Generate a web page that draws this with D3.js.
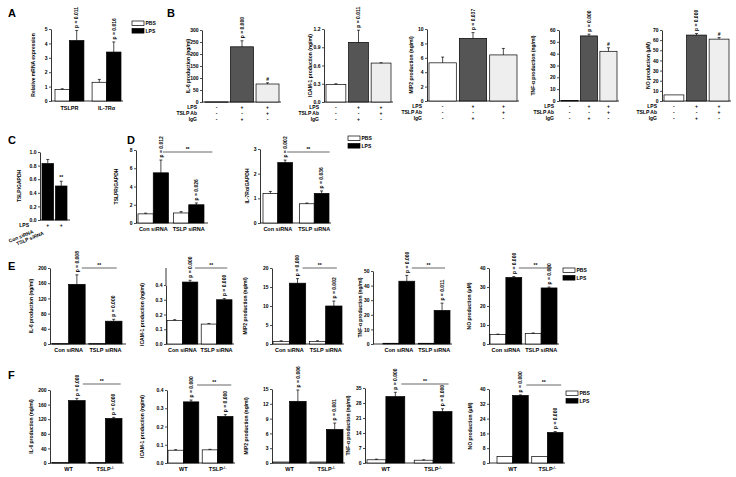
<!DOCTYPE html>
<html><head><meta charset="utf-8">
<script src="https://cdn.jsdelivr.net/npm/d3@7"></script>
<style>
body{margin:0;background:#fff}
text{font-family:"Liberation Sans",Arial,sans-serif;font-weight:bold;fill:#000}
</style></head>
<body><svg id="c" width="736" height="477"></svg>
<script>
// ---------------- DATA ----------------
// Panel A
const aCategories = ["TSLPR", "IL-7Rα"];
const aPBS = [0.8, 1.3];
const aPBSErr = [0.05, 0.2];
const aLPS = [4.2, 3.4];
const aLPSErr = [0.7, 0.7];
const aPLabels = ["p = 0.011", "p = 0.016"];
const aTicks = [0, 1, 2, 3, 4, 5];

// Panel B (antibody blocking)
const bLabels = ["IL-6 production (ng/ml)", "ICAM-1 production (ng/ml)", "MIP2 production (ng/ml)", "TNF-α production (ng/ml)", "NO production (μM)"];
const bTicks = [[0, 50, 100, 150, 200, 250, 300], [0, 0.3, 0.6, 0.9, 1.2], [0, 2, 4, 6, 8, 10], [0, 10, 20, 30, 40, 50, 60], [0, 10, 20, 30, 40, 50, 60, 70]];
const bValues = [[0.5, 230, 75], [0.29, 0.98, 0.64], [5.3, 8.7, 6.4], [0.4, 55, 42], [6, 65, 61]];
const bErrors = [[0, 25, 5], [0.01, 0.2, 0.005], [0.8, 0.8, 0.9], [0, 1.5, 3], [0, 1.5, 1.5]];
const bPLabels = ["p = 0.000", "p = 0.011", "p = 0.037", "p = 0.000", "p = 0.000"];
const bHash = [true, false, false, true, true];
const bRowLabels = ["LPS", "TSLP Ab", "IgG"];
const bSigns = [["-", "+", "+"], ["-", "-", "+"], ["-", "+", "-"]];

// Panel C
const cCategories = ["Con siRNA", "TSLP siRNA"];
const cValues = [0.83, 0.5];
const cErrors = [0.06, 0.07];
const cTicks = [0, 0.2, 0.4, 0.6, 0.8, 1.0];

// Panel D
const dCategories = ["Con siRNA", "TSLP siRNA"];
const dLabels = ["TSLPR/GAPDH", "IL-7Rα/GAPDH"];
const dTicks = [[0, 2, 4, 6, 8], [0, 1, 2, 3]];
const dPBS = [[1.0, 1.1], [1.2, 0.78]];
const dPBSErr = [[0.08, 0.15], [0.08, 0.03]];
const dLPS = [[5.5, 2.0], [2.45, 1.2]];
const dLPSErr = [[1.4, 0.2], [0.1, 0.1]];
const dPLabels = [["p = 0.012", "p = 0.026"], ["p = 0.002", "p = 0.036"]];

// Panel E (siRNA)
const eCategories = ["Con siRNA", "TSLP siRNA"];
const eTicks = [[0, 40, 80, 120, 160, 200], [0, 0.1, 0.2, 0.3, 0.4], [0, 5, 10, 15, 20], [0, 10, 20, 30, 40, 50], [0, 10, 20, 30, 40]];
const ePBS = [[1, 1], [0.16, 0.135], [0.7, 0.7], [0.5, 0.5], [5, 5.5]];
const ePBSErr = [[0, 0], [0.005, 0.004], [0.15, 0.15], [0, 0], [0.2, 0.3]];
const eLPS = [[157, 60], [0.42, 0.30], [16, 10], [43, 23], [35, 29.5]];
const eLPSErr = [[25, 5], [0.012, 0.008], [1.2, 1.3], [4, 5], [0.5, 0.5]];
const ePLabels = [["p = 0.008", "p = 0.000"], ["p = 0.000", "p = 0.000"], ["p = 0.000", "p = 0.002"], ["p = 0.000", "p = 0.011"], ["p = 0.000", "p = 0.000"]];

// Panel F (knockout)
const fCategories = ["WT", "TSLP"];
const fTicks = [[0, 40, 80, 120, 160, 200], [0, 0.1, 0.2, 0.3, 0.4], [0, 3, 6, 9, 12, 15], [0, 7, 14, 21, 28, 35], [0, 8, 16, 24, 32, 40]];
const fPBS = [[1, 1], [0.07, 0.072], [0.2, 0.2], [1.5, 1.3], [3.5, 3.5]];
const fPBSErr = [[0, 0], [0.003, 0.003], [0, 0], [0.3, 0.2], [0, 0]];
const fLPS = [[171, 122], [0.335, 0.255], [12.5, 6.8], [31, 24], [36.5, 16.5]];
const fLPSErr = [[6, 3], [0.01, 0.01], [2.3, 1.3], [2, 1.3], [0.3, 0.5]];
const fPLabels = [["p = 0.000", "p = 0.000"], ["p = 0.000", "p = 0.000"], ["p = 0.006", "p = 0.001"], ["p = 0.000", "p = 0.000"], ["p = 0.000", "p = 0.000"]];
const fSig = [true, true, false, true, true];

const legendLabels = ["PBS", "LPS"];

// ---------------- LAYOUT (positions/styles) ----------------
const layA = {x0: 51, x1: 123, yBot: 101, yTop: 29, bx: [55, 121], pad: 0.22, labX: 35, catY: 110};
const layB = [
  {x0: 202, x1: 281, yBot: 102, yTop: 30, bx: [205, 279], pad: 0.1, labX: 190},
  {x0: 324, x1: 393, yBot: 102, yTop: 29, bx: [326, 391], pad: 0.12, labX: 312},
  {x0: 427, x1: 519, yBot: 101, yTop: 29, bx: [429, 517], pad: 0.1, labX: 413},
  {x0: 559, x1: 619, yBot: 101, yTop: 30, bx: [561, 617], pad: 0.12, labX: 535},
  {x0: 662, x1: 731, yBot: 101, yTop: 30, bx: [664, 729], pad: 0.12, labX: 650}
];
const layC = {x0: 40, x1: 70, yBot: 220, yTop: 152, bx: [42, 67], pad: 0.14, labX: 21};
const layD = [
  {x0: 136, x1: 208, yBot: 223, yTop: 150, bx: [138, 204], pad: 0.14, labX: 118, sig: [2, 16], sigY: 152},
  {x0: 260, x1: 331, yBot: 223, yTop: 149, bx: [263, 329], pad: 0.19, labX: 249, sig: [2, 8], sigY: 152}
];
const layE = [
  {x0: 50, x1: 126, yBot: 344, yTop: 268, bx: [52, 122], pad: 0.1, labX: 33, sig: [5, 3], sigY: 268},
  {x0: 166, x1: 234, yBot: 344, yTop: 285, bx: [167, 232], pad: 0.1, labX: 144, sig: [5, 3], sigY: 268, axisTop: 268},
  {x0: 272, x1: 344, yBot: 344, yTop: 268, bx: [273, 342], pad: 0.1, labX: 247, sig: [5, 3], sigY: 268},
  {x0: 373, x1: 452, yBot: 344, yTop: 271, bx: [383, 450], pad: 0.1, labX: 362, sig: [5, 3], sigY: 268},
  {x0: 489, x1: 559, yBot: 344, yTop: 268, bx: [490, 557], pad: 0.1, labX: 471, sig: [5, 3], sigY: 268}
];
const layF = [
  {x0: 50, x1: 124, yBot: 463, yTop: 390, bx: [52, 122], pad: 0.1, labX: 33, sig: [6, 7], sigY: 384},
  {x0: 167, x1: 235, yBot: 463, yTop: 390, bx: [168, 233], pad: 0.1, labX: 144, sig: [6, 6], sigY: 385},
  {x0: 272, x1: 345, yBot: 463, yTop: 389, bx: [273, 343], pad: 0.1, labX: 248, sig: [6, 6], sigY: 385},
  {x0: 365, x1: 455, yBot: 463, yTop: 388, bx: [367, 452], pad: 0.2, labX: 350, sig: [6, 6], sigY: 384},
  {x0: 489, x1: 565, yBot: 463, yTop: 389, bx: [497, 563], pad: 0.1, labX: 472, sig: [6, 6], sigY: 385}
];

// ---------------- DRAWING ----------------
const svg = d3.select("#c");
const FS = 5;

function fmtFor(ticks) {
  return ticks.some(t => t % 1 !== 0) ? d3.format(".1f") : d3.format("d");
}

function panel(o) {
  const g = svg.append("g");
  const y = d3.scaleLinear().domain([o.ticks[0], o.ticks[o.ticks.length - 1]]).range([o.yBot, o.yTop]);
  const ax = g.append("g").attr("transform", `translate(${o.x0},0)`)
    .call(d3.axisLeft(y).tickValues(o.ticks).tickSize(2).tickSizeOuter(0).tickPadding(1.5).tickFormat(fmtFor(o.ticks)));
  ax.select(".domain").attr("stroke", "#000").attr("stroke-width", 0.8);
  ax.selectAll(".tick line").attr("stroke", "#000").attr("stroke-width", 0.7);
  ax.selectAll(".tick text").attr("font-size", FS).attr("font-family", "Liberation Sans, Arial, sans-serif").attr("font-weight", "bold");
  if (o.axisTop) g.append("line").attr("x1", o.x0).attr("x2", o.x0).attr("y1", o.yTop).attr("y2", o.axisTop).attr("stroke", "#000").attr("stroke-width", 0.8);
  g.append("line").attr("x1", o.x0).attr("x2", o.x1).attr("y1", o.yBot).attr("y2", o.yBot).attr("stroke", "#000").attr("stroke-width", 0.8);
  g.append("text").attr("transform", `translate(${o.labX},${(o.yBot + o.yTop) / 2}) rotate(-90)`)
    .attr("text-anchor", "middle").attr("font-size", FS).text(o.yLabel);
  const xg = d3.scaleBand().domain(d3.range(o.nGroups)).range(o.bx).paddingInner(o.pad);
  const xs = d3.scaleBand().domain(d3.range(o.nSeries)).range([0, xg.bandwidth()]);
  o.bars.forEach(b => {
    const x = xg(b.gi) + xs(b.si), w = xs.bandwidth(), cx = x + w / 2;
    const top = y(b.v);
    g.append("rect").attr("x", x).attr("y", top).attr("width", w).attr("height", Math.max(0.6, o.yBot - top))
      .attr("fill", b.fill).attr("stroke", "#000").attr("stroke-width", 0.7);
    const et = y(b.v + (b.e || 0));
    if (b.e > 0) {
      g.append("line").attr("x1", cx).attr("x2", cx).attr("y1", top).attr("y2", et).attr("stroke", "#000").attr("stroke-width", 0.7);
      g.append("line").attr("x1", cx - 1.5).attr("x2", cx + 1.5).attr("y1", et).attr("y2", et).attr("stroke", "#000").attr("stroke-width", 0.7);
    }
    if (b.p) {
      g.append("text").attr("transform", `translate(${cx},${et - 2.5}) rotate(-90)`)
        .attr("dy", "0.35em").attr("font-size", FS).attr("text-anchor", "start").text(b.p);
    }
    if (b.mark) {
      g.append("text").attr("x", cx).attr("y", et - 2).attr("text-anchor", "middle").attr("font-size", FS).text(b.mark);
    }
  });
  return {g, y, xg, xs};
}

function sigLine(P, o, label) {
  const c0 = P.xg(0) + P.xs(1) + P.xs.bandwidth() / 2 + o.sig[0];
  const c1 = P.xg(1) + P.xs(1) + P.xs.bandwidth() / 2 + o.sig[1];
  P.g.append("line").attr("x1", c0).attr("x2", c1).attr("y1", o.sigY).attr("y2", o.sigY).attr("stroke", "#000").attr("stroke-width", 0.6);
  P.g.append("text").attr("x", (c0 + c1) / 2).attr("y", o.sigY - 1.5).attr("text-anchor", "middle").attr("font-size", FS).text(label);
}

function catLabels(P, o, cats, yy, sup) {
  cats.forEach((c, i) => {
    const t = P.g.append("text").attr("x", P.xg(i) + P.xg.bandwidth() / 2).attr("y", yy)
      .attr("text-anchor", "middle").attr("font-size", 5.5).text(c);
    if (sup && i === 1) t.append("tspan").attr("font-size", 3.8).attr("dy", -2.2).text("-/-");
  });
}

function legend(x, yy) {
  legendLabels.forEach((l, i) => {
    svg.append("rect").attr("x", x).attr("y", yy + i * 7.5).attr("width", 12).attr("height", 4.6)
      .attr("fill", i ? "#000" : "#fff").attr("stroke", "#000").attr("stroke-width", 0.7);
    svg.append("text").attr("x", x + 13.5).attr("y", yy + i * 7.5 + 4.3).attr("font-size", FS).text(l);
  });
}

function letter(t, x, yy) {
  svg.append("text").attr("x", x).attr("y", yy).attr("font-size", 11).text(t);
}

// Panel A
{
  const o = Object.assign({}, layA, {ticks: aTicks, yLabel: "Relative mRNA expression", nGroups: 2, nSeries: 2, bars: []});
  aCategories.forEach((c, i) => {
    o.bars.push({gi: i, si: 0, v: aPBS[i], e: aPBSErr[i], fill: "#fff"});
    o.bars.push({gi: i, si: 1, v: aLPS[i], e: aLPSErr[i], fill: "#000", p: aPLabels[i]});
  });
  const P = panel(o);
  catLabels(P, o, aCategories, o.catY);
  legend(132, 21);
  letter("A", 8, 17);
}

// Panel B
letter("B", 167, 17);
const bFills = ["#fff", "#555", "#eee"];
bValues.forEach((vals, k) => {
  const o = Object.assign({}, layB[k], {ticks: bTicks[k], yLabel: bLabels[k], nGroups: 3, nSeries: 1, bars: []});
  vals.forEach((v, i) => o.bars.push({gi: i, si: 0, v: v, e: bErrors[k][i], fill: bFills[i],
    p: i === 1 ? bPLabels[k] : null, mark: (i === 2 && bHash[k]) ? "#" : null}));
  const P = panel(o);
  bRowLabels.forEach((r, ri) => {
    const yy = o.yBot + 7.2 + ri * 6;
    P.g.append("text").attr("x", o.x0 - 5).attr("y", yy).attr("text-anchor", "end").attr("font-size", FS).text(r);
    bSigns[ri].forEach((s, i) => P.g.append("text").attr("x", P.xg(i) + P.xg.bandwidth() / 2).attr("y", yy)
      .attr("text-anchor", "middle").attr("font-size", FS).text(s));
  });
});

// Panel C
{
  letter("C", 8, 144);
  const o = Object.assign({}, layC, {ticks: cTicks, yLabel: "TSLP/GAPDH", nGroups: 2, nSeries: 1, bars: []});
  cValues.forEach((v, i) => o.bars.push({gi: i, si: 0, v: v, e: cErrors[i], fill: "#000", mark: i === 1 ? "**" : null}));
  const P = panel(o);
  P.g.append("text").attr("x", o.x0 - 11).attr("y", o.yBot + 7).attr("text-anchor", "end").attr("font-size", FS).text("LPS");
  cCategories.forEach((c, i) => {
    const cx = P.xg(i) + P.xg.bandwidth() / 2;
    P.g.append("text").attr("x", cx).attr("y", o.yBot + 7).attr("text-anchor", "middle").attr("font-size", FS).text("+");
    P.g.append("text").attr("transform", `translate(${cx - 14 - i * 3},${o.yBot + 13 + i * 1.5}) rotate(-22)`)
      .attr("text-anchor", "end").attr("font-size", FS).text(c);
  });
}

// Panel D
letter("D", 127, 144);
dLabels.forEach((lab, k) => {
  const o = Object.assign({}, layD[k], {ticks: dTicks[k], yLabel: lab, nGroups: 2, nSeries: 2, bars: []});
  dCategories.forEach((c, i) => {
    o.bars.push({gi: i, si: 0, v: dPBS[k][i], e: dPBSErr[k][i], fill: "#fff"});
    o.bars.push({gi: i, si: 1, v: dLPS[k][i], e: dLPSErr[k][i], fill: "#000", p: dPLabels[k][i]});
  });
  const P = panel(o);
  catLabels(P, o, dCategories, o.yBot + 8);
  sigLine(P, o, "**");
});
legend(348, 136);

// Panel E
letter("E", 8, 270);
eTicks.forEach((tk, k) => {
  const o = Object.assign({}, layE[k], {ticks: tk, yLabel: bLabels[k], nGroups: 2, nSeries: 2, bars: []});
  eCategories.forEach((c, i) => {
    o.bars.push({gi: i, si: 0, v: ePBS[k][i], e: ePBSErr[k][i], fill: "#fff"});
    o.bars.push({gi: i, si: 1, v: eLPS[k][i], e: eLPSErr[k][i], fill: "#000", p: ePLabels[k][i]});
  });
  const P = panel(o);
  catLabels(P, o, eCategories, o.yBot + 8);
  sigLine(P, o, "**");
});
legend(563, 268);

// Panel F
letter("F", 8, 379);
fTicks.forEach((tk, k) => {
  const o = Object.assign({}, layF[k], {ticks: tk, yLabel: bLabels[k], nGroups: 2, nSeries: 2, bars: []});
  fCategories.forEach((c, i) => {
    o.bars.push({gi: i, si: 0, v: fPBS[k][i], e: fPBSErr[k][i], fill: "#fff"});
    o.bars.push({gi: i, si: 1, v: fLPS[k][i], e: fLPSErr[k][i], fill: "#000", p: fPLabels[k][i]});
  });
  const P = panel(o);
  catLabels(P, o, fCategories, o.yBot + 8, true);
  if (fSig[k]) sigLine(P, o, "**");
});
legend(566, 391);
</script>
</body></html>
